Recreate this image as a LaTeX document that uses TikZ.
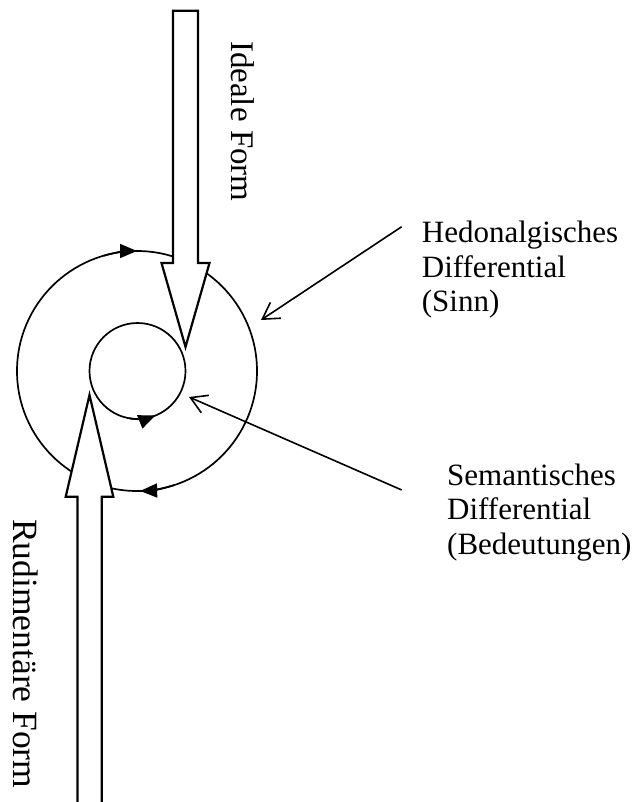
\documentclass[tikz,border=0pt]{standalone}
\usepackage{fontspec}
\setmainfont{Liberation Serif}
\usetikzlibrary{arrows.meta}
\tikzset{
  lbl/.style={font=\fontsize{31}{34.5}\selectfont, inner sep=0pt, align=left, anchor=base west},
  vlbl/.style={inner sep=0pt, rotate=-90, anchor=base west},
  ring/.style={circle, draw, inner sep=0pt, line width=1.7pt},
  flow/.style={line width=1.7pt, -{Triangle[length=17pt,width=14pt]}},
  blockarrow/.style={draw, fill=white, line width=2.2pt, line join=miter},
  pointer/.style={line width=1.6pt, -{Straight Barb[length=16pt,width=19pt]}},
}
\begin{document}
\begin{tikzpicture}[x=1pt,y=-1pt]
\useasboundingbox (0,0) rectangle (637,802);

% the two cycles
\node[ring, minimum size=240pt] (outer) at (137,371) {};
\node[ring, minimum size=96pt] (inner) at (137.5,371) {};

% direction marks on the cycles
\draw[flow] ([shift={(-106:120)}]outer.center) arc[start angle=-106, end angle=-90, radius=120];
\draw[flow] ([shift={(72:120)}]outer.center) arc[start angle=72, end angle=88.5, radius=120];
\draw[flow] ([shift={(100:48)}]inner.center) arc[start angle=100, end angle=68, radius=48];

% block arrow coming down from above
\draw[blockarrow] (173,10.7) -- (198,10.7) -- (198,263) -- (209.5,263)
  -- (185.5,347) coordinate (topTip) -- (161.5,263) -- (173,263) -- cycle;

% block arrow rising from below
\draw[blockarrow] (77.5,803) -- (77.5,496.7) -- (65.7,496.7)
  -- (89.5,395) coordinate (bottomTip) -- (113.3,496.7) -- (101.7,496.7) -- (101.7,803);

% vertical captions
\node[vlbl, font=\fontsize{33}{36}\selectfont] (ideal) at (231,41) {Ideale Form};
\node[vlbl, font=\fontsize{35.5}{38}\selectfont] (rudiment) at (13,519) {Rudimentäre Form};

% captions on the right (anchored at the baseline of their last line)
\node[lbl] (hed) at (421.7,311.7) {Hedonalgisches\\Differential\\(Sinn)};
\node[lbl] (sem) at (447,554) {Semantisches\\Differential\\(Bedeutungen)};

% pointers from captions to the cycles
\coordinate (hedFrom) at (401.7,226.7);
\coordinate (hedTo) at (261,320);
\coordinate (semFrom) at (401.7,490);
\coordinate (semTo) at (189,397);
\draw[pointer] (hedFrom) -- (hedTo);
\draw[pointer] (semFrom) -- (semTo);
\end{tikzpicture}
\end{document}
